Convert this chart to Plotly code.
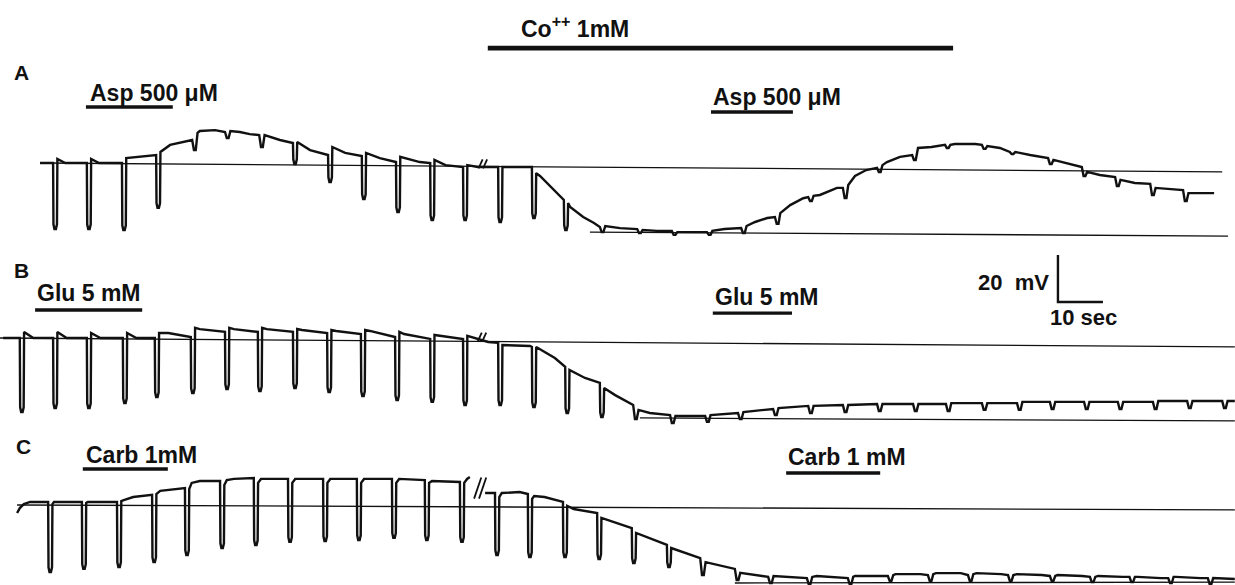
import plotly.graph_objects as go

# ---------------- data (time in s, membrane potential in mV rel. to reference line) -------------
# Panel A : Asp 500 uM
A_pulse_t = [11.8, 19.3, 27.1, 34.7, 42.7, 50.0, 57.6, 65.1, 72.9, 80.4, 88.0, 95.6, 102.9,
             110.7, 118.2, 125.3, 133.3, 141.6, 149.3, 157.1, 164.7, 172.2, 179.6, 187.3,
             194.9, 202.7, 210.0, 218.2, 224.4, 232.9, 240.4, 247.8, 255.6, 262.9]
A_pre = [0.0, 0.0, 0.0, 3.4, 9.8, 13.2, 11.9, 8.5, 3.4, 3.0, 0.4, 0.0, -1.7,
         -1.7, -1.7, -15.7, -27.2, -28.1, -28.9, -29.4, -27.7, -23.0, -14.5, -10.6,
         -2.1, 3.4, 7.7, 7.7, 4.7, 2.1, -1.7, -6.0, -8.9, -11.5]
A_bot = [-28.1, -28.1, -28.5, -19.1, 5.5, 10.6, 6.8, -0.4, -8.1, -15.3, -20.9, -24.3, -24.3,
         -25.1, -23.4, -28.5, -29.4, -29.8, -30.6, -30.6, -29.8, -25.9, -16.2, -14.9,
         -3.8, 1.3, 6.4, 6.0, 3.8, -0.4, -5.5, -9.8, -13.6, -16.2]
A_post = [1.7, 1.7, 2.1, 4.7, 12.8, 13.6, 11.9, 8.9, 6.8, 4.3, 2.6, 1.3, -0.9,
          -1.7, -4.3, -17.0, -26.8, -28.5, -29.4, -28.9, -26.8, -21.3, -14.0, -9.4,
          -0.9, 6.0, 7.7, 7.2, 4.7, 1.3, -3.8, -7.2, -10.6, -12.8]
A_env_t = [8.9, 14.5, 22.0, 37.8, 44.4, 47.8, 53.3, 55.5, 62.2, 68.9, 76.7, 84.4, 93.3, 99.0,
           106.2, 108.9, 116.0, 120.0, 126.7, 129.6, 132.0, 137.8, 146.0, 153.3, 161.0,
           167.8, 170.5, 175.6, 178.5, 182.2, 186.0, 190.0, 192.5, 197.1, 200.0, 204.0,
           207.0, 212.2, 216.7, 222.2, 228.9, 236.7, 244.4, 252.2, 261.8, 269.8]
A_env_v = [0.0, 0.0, 0.0, 7.7, 13.6, 14.0, 13.2, 12.3, 9.8, 5.5, 4.3, 2.1, 0.4, -0.9,
           -1.7, -1.7, -1.7, -5.5, -18.7, -23.0, -25.5, -27.7, -28.9, -29.4, -28.1,
           -25.1, -23.4, -17.9, -15.0, -13.6, -10.6, -5.5, -3.0, 0.4, 2.6, 6.4,
           6.8, 8.1, 8.1, 6.4, 3.4, 0.0, -5.1, -8.5, -11.5, -12.8]

# Panel B : Glu 5 mM
B_pulse_t = [4.4, 11.8, 19.3, 27.3, 34.4, 42.4, 50.0, 57.3, 65.1, 72.7, 80.2, 87.8, 95.6,
             102.9, 110.7, 118.2, 125.6, 133.3, 140.7, 148.9, 156.7, 164.0, 171.8, 179.6,
             187.3, 194.9, 202.9, 210.2, 218.2, 226.0, 233.3, 240.9, 248.4, 256.2, 263.8, 271.6]
B_pre = [0.0, 0.0, 0.0, 0.0, 0.0, 0.4, 2.6, 2.6, 2.6, 2.1, 1.7, 0.4, -0.4,
         -0.4, -2.1, -3.8, -12.3, -19.1, -28.5, -32.8, -33.2, -31.9, -30.2, -28.9,
         -28.5, -28.1, -28.1, -28.1, -27.7, -27.7, -27.2, -27.2, -27.2, -27.2, -26.8, -26.8]
B_bot = [-31.5, -29.8, -29.8, -27.7, -25.1, -23.4, -21.7, -22.6, -21.3, -23.0, -24.7, -26.4, -27.2,
         -28.5, -28.5, -29.4, -31.9, -33.6, -34.5, -36.2, -35.7, -34.5, -32.8, -31.9,
         -31.5, -31.1, -31.1, -31.1, -30.6, -30.6, -30.2, -30.2, -30.2, -30.2, -29.8, -29.8]
B_post = [2.6, 2.6, 2.1, 2.1, 2.1, 4.3, 4.3, 4.3, 3.8, 3.4, 3.4, 2.6, 1.3,
          0.9, -3.0, -3.8, -13.6, -21.3, -30.6, -33.2, -32.8, -31.5, -29.8, -28.9,
          -28.5, -28.1, -28.1, -27.7, -27.7, -27.2, -27.2, -27.2, -27.2, -26.8, -26.8, -26.8]
B_env_t = [0.7, 7.4, 14.8, 22.3, 30.3, 37.4, 44.4, 52.0, 59.3, 67.1, 74.7, 82.2, 89.8,
           106.0, 108.5, 117.8, 121.1, 123.3, 130.0, 136.7, 144.4, 274.4]
B_env_v = [0.0, 0.0, 0.0, 0.0, 0.0, 2.1, 3.8, 3.8, 3.8, 3.4, 3.0, 3.0, 1.7,
           -0.4, -1.7, -3.4, -6.0, -8.5, -17.0, -24.3, -31.9, -26.8]

# Panel C : Carb 1 mM
C_pulse_t = [10.7, 18.2, 26.0, 33.8, 41.1, 48.9, 56.4, 64.0, 71.8, 79.3, 87.1, 94.4, 102.2,
             110.0, 117.3, 125.1, 132.7, 140.4, 148.2, 155.6, 163.3, 170.7, 179.3, 188.4,
             197.3, 206.2, 215.1, 224.0, 233.3, 242.2, 251.0, 259.6, 268.4]
C_pre = [1.3, 1.3, 1.3, 4.3, 7.2, 10.2, 11.5, 11.1, 11.1, 11.1, 11.1, 10.6, 9.8,
         5.1, 4.7, 1.3, -3.4, -9.8, -17.0, -22.6, -27.2, -30.6, -31.1, -31.1,
         -30.2, -29.8, -29.8, -29.8, -30.2, -30.6, -30.6, -31.1, -31.1]
C_bot = [-28.5, -27.2, -26.4, -24.3, -21.3, -18.3, -17.0, -15.7, -15.3, -14.9, -14.0, -14.9, -15.7,
         -21.3, -22.1, -22.1, -23.0, -24.7, -26.4, -29.8, -31.9, -33.2, -33.6, -33.6,
         -32.3, -32.3, -32.3, -32.3, -32.3, -32.8, -32.8, -33.2, -33.6]
C_post = [0.4, 0.9, 1.7, 4.7, 6.8, 8.5, 9.4, 9.4, 9.4, 9.4, 9.4, 9.4, 9.4,
          3.4, 2.6, -0.4, -5.5, -11.9, -18.3, -24.3, -28.9, -30.2, -30.6, -30.6,
          -29.8, -29.4, -29.4, -29.8, -30.2, -30.6, -30.6, -30.6, -31.1]
C_env_t = [3.8, 4.4, 5.3, 6.7, 12.0, 19.5, 27.5, 29.6, 35.6, 40.0, 42.6, 44.4, 50.4, 52.0, 55.5,
           58.0, 65.6, 73.4, 80.9, 88.7, 96.0, 103.8, 104.4, 105.5, 107.8, 111.5, 115.5,
           118.7, 121.0, 127.5, 181.5, 190.0, 195.5, 199.0, 204.5, 208.0, 213.5, 217.0,
           222.5, 226.0, 231.5, 235.0, 240.5, 244.0, 249.5, 252.8, 258.0, 261.3, 266.8, 274.4]
C_env_v = [-3.4, -1.3, 0.4, 1.3, 1.3, 1.3, 2.1, 3.4, 6.0, 7.2, 9.4, 10.2, 10.6, 11.1, 11.5,
           11.1, 11.1, 11.1, 11.1, 11.1, 10.2, 11.1, 11.9, None, 5.1, 5.1, 5.5,
           3.8, 3.4, -1.7, -30.2, -30.2, -30.2, -29.4, -29.4, -29.0, -29.0, -29.0,
           -29.4, -29.4, -29.8, -29.8, -30.2, -30.2, -30.6, -30.6, -31.1, -30.6, -31.1, -31.5]

# reference lines: (t0, v0, t1, v1)
A_ref = [(8.9, 0.0, 271.6, -3.8), (131.1, -29.4, 272.9, -31.1)]
B_ref = [(0.0, 0.0, 274.4, -3.8), (142.2, -34.0, 274.4, -35.3)]
C_ref = [(3.8, 0.0, 274.4, -2.1), (163.3, -33.2, 274.4, -32.8)]

# record breaks (t, v)
break_t = [107.3, 107.1, 106.7]
break_v = [-0.4, 0.4, 7.2]

# drug applications (start s, end s, label)
A_drugs = [(19.1, 38.4, "Asp 500 μM"), (158.0, 176.2, "Asp 500 μM")]
B_drugs = [(7.8, 31.6, "Glu 5 mM"), (158.4, 176.0, "Glu 5 mM")]
C_drugs = [(18.4, 37.3, "Carb 1mM"), (174.7, 195.6, "Carb 1 mM")]
cobalt = (108.4, 211.8, "Co<sup>++</sup> 1mM")

scale_mv = 20
scale_s = 10

# ---------------- layout geometry ----------------
W, H = 1235, 585
PX_PER_S = 4.5
PX_PER_MV = 2.35
bands = [(0, 245, 163), (245, 425, 338), (425, 585, 505)]   # top, bottom, reference row

FONT = "Liberation Sans, Arial, sans-serif"
BLACK = "#111111"
LABEL_SIZE = 23


def vertices(pt, pre, bot, post, env_t, env_v):
    pts = list(zip(env_t, env_v))
    for t, a, b, c in zip(pt, pre, bot, post):
        if a - b > 8:
            shape = [(0, a), (0.08, b + 2.0), (0.3, b), (0.62, b), (0.86, b + 2.0), (0.95, c)]
        else:
            shape = [(0, a), (0.4, b), (0.8, b), (1.2, c)]
        pts += [(t + dt, v) for dt, v in shape]
    pts.sort(key=lambda p: p[0])
    return [p[0] for p in pts], [p[1] for p in pts]


fig = go.Figure()
panels = [
    ("y", A_pulse_t, A_pre, A_bot, A_post, A_env_t, A_env_v, A_ref),
    ("y2", B_pulse_t, B_pre, B_bot, B_post, B_env_t, B_env_v, B_ref),
    ("y3", C_pulse_t, C_pre, C_bot, C_post, C_env_t, C_env_v, C_ref),
]
for i, (ya, pt, pre, bot, post, et, ev, refs) in enumerate(panels):
    for (t0, v0, t1, v1) in refs:
        fig.add_trace(go.Scatter(x=[t0, t1], y=[v0, v1], mode="lines", yaxis=ya,
                                 line=dict(color=BLACK, width=1.3), hoverinfo="skip",
                                 showlegend=False))
    xs, ys = vertices(pt, pre, bot, post, et, ev)
    fig.add_trace(go.Scatter(x=xs, y=ys, mode="lines", yaxis=ya, connectgaps=False,
                             line=dict(color=BLACK, width=2.4, shape="linear"),
                             showlegend=False, hoverinfo="skip"))
    # break marks
    tb, vb = break_t[i], break_v[i]
    h = 4.5 if i == 2 else 1.9
    w = 0.8 if i == 2 else 0.45
    d = 0.55 if i == 2 else 0.5
    fig.add_trace(go.Scatter(x=[tb - d - w, tb - d + w, None, tb + d - w, tb + d + w],
                             y=[vb - h, vb + h, None, vb - h, vb + h], mode="lines",
                             yaxis=ya, line=dict(color=BLACK, width=1.8),
                             showlegend=False, hoverinfo="skip"))

# ---- axes ----
layout_axes = {}
for i, (top, bottom, ref) in enumerate(bands):
    name = "yaxis" if i == 0 else f"yaxis{i + 1}"
    layout_axes[name] = dict(domain=[1 - bottom / H, 1 - top / H],
                             range=[-(bottom - ref) / PX_PER_MV, (ref - top) / PX_PER_MV],
                             visible=False, fixedrange=True, anchor="x")

# ---- drug bars and labels ----
annotations = []
bar_levels = [[23.8, 21.7], [11.9, 10.6], [15.3, 13.6]]
label_levels = [[29.8, 28.1], [19.1, 17.4], [21.3, 20.4]]
label_shift = [[0.4, 0.0], [0.0, 0.0], [0.2, 0.0]]
for i, (ya, drugs) in enumerate([("y", A_drugs), ("y2", B_drugs), ("y3", C_drugs)]):
    for j, (s, e, lab) in enumerate(drugs):
        fig.add_trace(go.Scatter(x=[s, e], y=[bar_levels[i][j]] * 2, mode="lines", yaxis=ya,
                                 line=dict(color=BLACK, width=3.4), showlegend=False,
                                 hoverinfo="skip"))
        annotations.append(dict(x=s + label_shift[i][j], y=label_levels[i][j], xref="x",
                                yref=ya, text=f"<b>{lab}</b>", showarrow=False,
                                xanchor="left", yanchor="middle",
                                font=dict(family=FONT, size=LABEL_SIZE, color=BLACK)))

# cobalt bar
fig.add_trace(go.Scatter(x=[cobalt[0], cobalt[1]], y=[48.9, 48.9], mode="lines", yaxis="y",
                         line=dict(color=BLACK, width=4.6), showlegend=False, hoverinfo="skip"))
annotations.append(dict(x=115.4, y=57.9, xref="x", yref="y", text=f"<b>{cobalt[2]}</b>",
                        showarrow=False, xanchor="left", yanchor="middle",
                        font=dict(family=FONT, size=LABEL_SIZE, color=BLACK)))

# panel letters
for ya, letter, t, v in [("y", "A", 2.6, 38.7), ("y2", "B", 2.6, 28.9), ("y3", "C", 3.0, 24.7)]:
    annotations.append(dict(x=t, y=v, xref="x", yref=ya, text=f"<b>{letter}</b>",
                            showarrow=False, xanchor="left", yanchor="middle",
                            font=dict(family=FONT, size=21, color=BLACK)))

# scale bar (in panel B axes)
sb_t, sb_v = 235.1, 15.3
fig.add_trace(go.Scatter(x=[sb_t, sb_t, sb_t + scale_s], y=[sb_v + scale_mv, sb_v, sb_v],
                         mode="lines", yaxis="y2", line=dict(color=BLACK, width=2.4),
                         showlegend=False, hoverinfo="skip"))
annotations.append(dict(x=sb_t - 1.5, y=sb_v + 8.5, xref="x", yref="y2",
                        text=f"<b>{scale_mv}  mV</b>", showarrow=False, xanchor="right",
                        yanchor="middle", font=dict(family=FONT, size=22, color=BLACK)))
annotations.append(dict(x=sb_t - 2.3, y=sb_v - 6.6, xref="x", yref="y2",
                        text=f"<b>{scale_s} sec</b>", showarrow=False, xanchor="left",
                        yanchor="middle", font=dict(family=FONT, size=22, color=BLACK)))

fig.update_layout(
    width=W, height=H, autosize=False,
    margin=dict(l=0, r=0, t=0, b=0, pad=0),
    paper_bgcolor="white", plot_bgcolor="white",
    xaxis=dict(domain=[0, 1], range=[0, W / PX_PER_S], visible=False, fixedrange=True),
    annotations=annotations,
    showlegend=False,
    **layout_axes,
)

fig.write_html("out.html", config={"displayModeBar": False, "staticPlot": True},
               post_script="document.body.style.margin='0';document.body.style.overflow='hidden';")
